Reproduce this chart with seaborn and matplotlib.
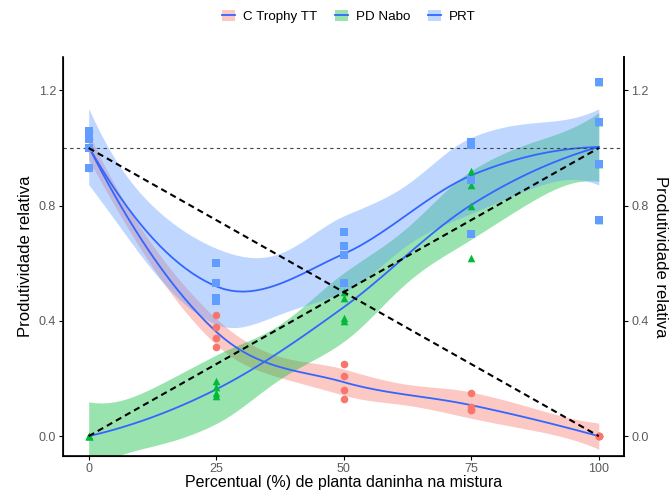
import numpy as np
import pandas as pd
import matplotlib
matplotlib.use("Agg")
import matplotlib.pyplot as plt
import seaborn as sns
from matplotlib.patches import Patch
from matplotlib.lines import Line2D
from matplotlib.legend_handler import HandlerTuple

# ---- data ----
levels = [0, 25, 50, 75, 100]
ctrophy = [[1.06, 1.03, 1.00, 0.93], [0.42, 0.38, 0.34, 0.31], [0.25, 0.21, 0.16, 0.13],
           [0.15, 0.10, 0.09, 0.09], [0.00, 0.00, 0.00, 0.00]]
pdnabo = [[0.00, 0.00, 0.00, 0.00], [0.19, 0.17, 0.15, 0.14], [0.50, 0.48, 0.41, 0.40],
          [0.92, 0.87, 0.80, 0.62], [1.23, 1.09, 0.945, 0.75]]
prt = [[1.06, 1.03, 1.00, 0.93], [0.60, 0.53, 0.48, 0.47], [0.71, 0.66, 0.63, 0.53],
       [1.02, 1.01, 0.89, 0.70], [1.23, 1.09, 0.945, 0.75]]
series_names = ["C Trophy TT", "PD Nabo", "PRT"]
series_vals = [ctrophy, pdnabo, prt]
colors = ["#F8766D", "#00BA38", "#619CFF"]
markers = ["o", "^", "s"]
ref_a = [0, 100]
ref_b = [1, 0]
yticks = [0.0, 0.4, 0.8, 1.2]
xticks = [0, 25, 50, 75, 100]

rows = []
for name, vals in zip(series_names, series_vals):
    for lv, reps in zip(levels, vals):
        for v in reps:
            rows.append((name, lv, v))
df = pd.DataFrame(rows, columns=["serie", "x", "y"])


# ---- loess (local quadratic, span 0.75, vertex + cubic Hermite interpolation) ----
def _local_rows(x, x0, span=0.75):
    n = len(x)
    q = int(np.floor(n * span))
    d = np.abs(x - x0)
    h = np.sort(d)[q - 1]
    u = np.clip(d / h, 0, 1)
    w = (1 - u ** 3) ** 3
    X = np.column_stack([np.ones(n), x - x0, (x - x0) ** 2])
    XtW = X.T * w
    A = np.linalg.pinv(XtW @ X) @ XtW
    return A[0], A[1]          # operator rows for value and slope


def _operator(x, pts, verts):
    vals = {v: _local_rows(x, v) for v in verts}
    out = []
    for p in pts:
        k = min(np.searchsorted(verts, p, side="right") - 1, len(verts) - 2)
        v0, v1 = verts[k], verts[k + 1]
        hh = v1 - v0
        t = (p - v0) / hh
        h00 = 2 * t ** 3 - 3 * t ** 2 + 1
        h10 = t ** 3 - 2 * t ** 2 + t
        h01 = -2 * t ** 3 + 3 * t ** 2
        h11 = t ** 3 - t ** 2
        out.append(h00 * vals[v0][0] + h10 * hh * vals[v0][1]
                   + h01 * vals[v1][0] + h11 * hh * vals[v1][1])
    return np.array(out)


def _tq975(df_):
    z = 1.959964
    return z + (z ** 3 + z) / (4 * df_) + (5 * z ** 5 + 16 * z ** 3 + 3 * z) / (96 * df_ ** 2)


def loess_fit(x, y, grid):
    x = np.asarray(x, float)
    y = np.asarray(y, float)
    verts = np.unique(x)
    n = len(x)
    L = _operator(x, x, verts)
    R = np.eye(n) - L
    M = R.T @ R
    d1 = np.trace(M)
    d2 = np.trace(M @ M)
    s = np.sqrt(np.sum((R @ y) ** 2) / d1)
    t = _tq975(d1 ** 2 / d2)
    G = _operator(x, grid, verts)
    fit = G @ y
    se = s * np.sqrt(np.sum(G ** 2, axis=1))
    return fit, fit - t * se, fit + t * se


plt.rcParams["font.family"] = ["Liberation Sans", "DejaVu Sans"]
fig = plt.figure(figsize=(6.72, 4.93), dpi=100)
ax = fig.add_axes([0.094, 0.075, 0.835, 0.81])

grid = np.linspace(min(levels), max(levels), 80)
for name, col in zip(series_names, colors):
    sub = df[df.serie == name]
    fit, lo, hi = loess_fit(sub.x.values, sub.y.values, grid)
    ax.fill_between(grid, lo, hi, color=col, alpha=0.4, linewidth=0, zorder=1)
    sns.lineplot(x=grid, y=fit, color="#3366FF", lw=1.3, ax=ax, zorder=2)

# points
for name, col, mk in zip(series_names, colors, markers):
    sub = df[df.serie == name]
    sns.scatterplot(data=sub, x="x", y="y", color=col, marker=mk, s=30, linewidth=0,
                    ax=ax, zorder=3, legend=False)

# reference lines
sns.lineplot(x=ref_a, y=ref_b, ax=ax, color="black", lw=1.5, ls=(0, (3, 2)), zorder=4)
sns.lineplot(x=ref_a, y=[ref_b[1], ref_b[0]], ax=ax, color="black", lw=1.5, ls=(0, (3, 2)), zorder=4)
ax.axhline(1.0, color="#444444", lw=0.8, ls=(0, (3, 3)), zorder=2)

ax.set_xlim(-5, 105)
ax.set_ylim(-0.069, 1.317)
ax.set_xticks(xticks)
ax.set_yticks(yticks)
ax.set_yticklabels([f"{t:.1f}" for t in yticks])
ax.set_xlabel("Percentual (%) de planta daninha na mistura", fontsize=11.5, labelpad=0)
ax.set_ylabel("Produtividade relativa", fontsize=12, labelpad=4)
ax.spines["top"].set_visible(False)
for s in ["left", "bottom", "right"]:
    ax.spines[s].set_linewidth(1.2)
ax.tick_params(axis="both", labelsize=9, labelcolor="#5A5A5A", length=3, width=0.8, pad=2)

ax2 = ax.twinx()
ax2.set_ylim(ax.get_ylim())
ax2.set_yticks(yticks)
ax2.set_yticklabels([f"{t:.1f}" for t in yticks])
ax2.tick_params(axis="y", labelsize=9, labelcolor="#5A5A5A", length=3, width=0.8, pad=2)
ax2.spines["top"].set_visible(False)
ax2.spines["right"].set_linewidth(1.2)
ax2.set_ylabel("Produtividade relativa", fontsize=12, rotation=-90, labelpad=14)

handles = [(Patch(facecolor=c, alpha=0.4, edgecolor="none"), Line2D([], [], color="#3366FF", lw=1.3))
           for c in colors]
fig.legend(handles, series_names, handler_map={tuple: HandlerTuple(ndivide=1)},
           loc="center", bbox_to_anchor=(0.519, 0.967), ncol=3, frameon=False, fontsize=9.6,
           handlelength=1.0, handleheight=1.0, columnspacing=1.3, handletextpad=0.6)

fig.savefig("out.png", dpi=100)
